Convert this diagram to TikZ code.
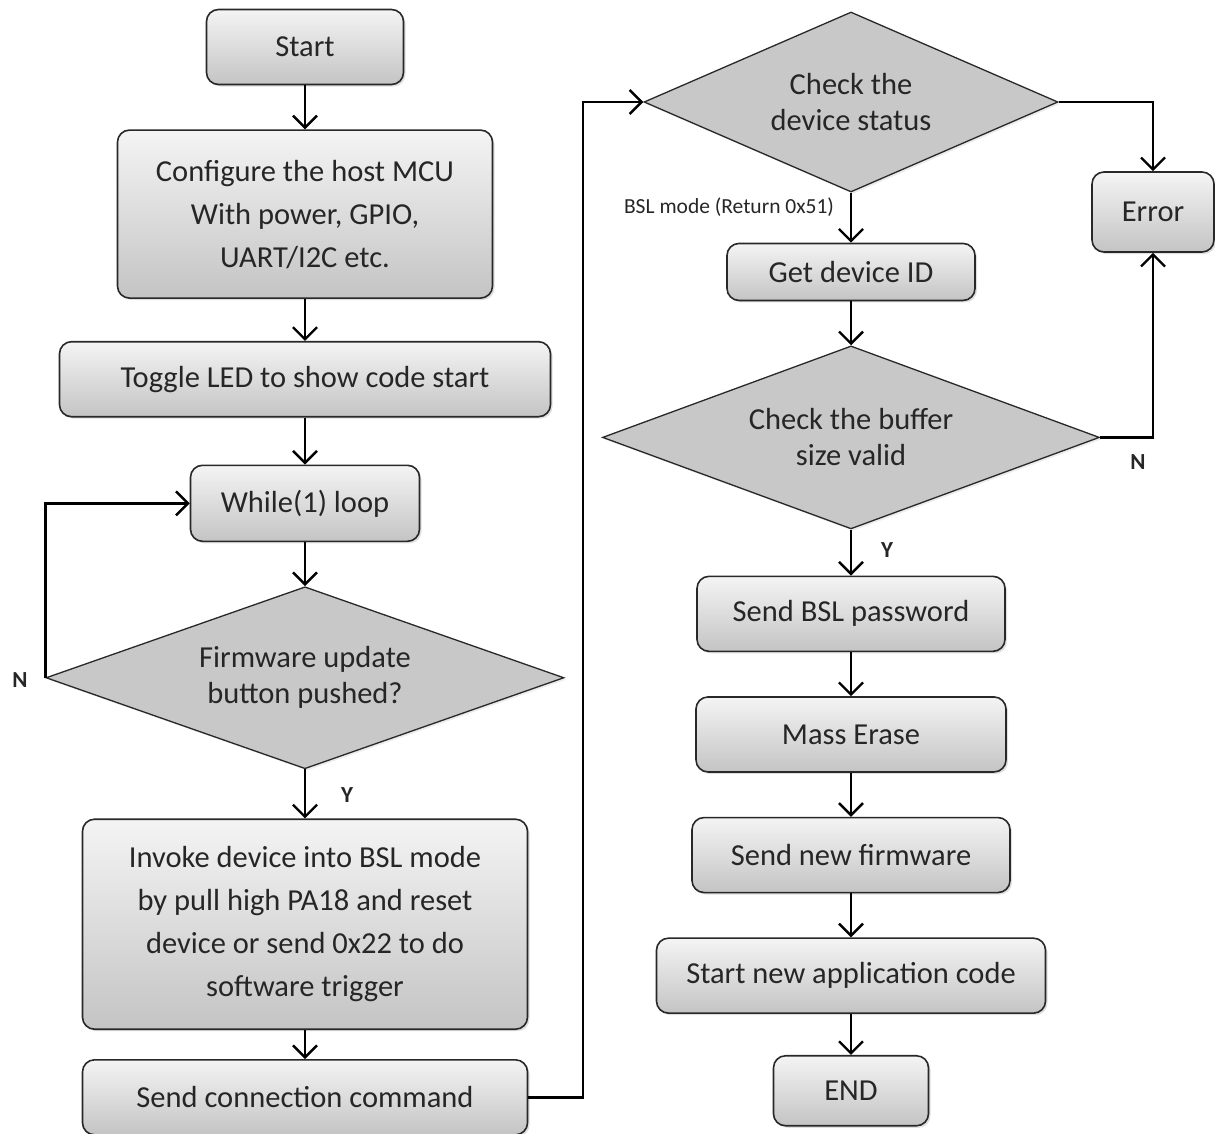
\documentclass[tikz,border=0pt]{standalone}
\usepackage{fontspec}
\setmainfont{Carlito}
\usepackage{tikz}
\usetikzlibrary{positioning,shapes.geometric,arrows.meta,shadows}
\definecolor{boxline}{RGB}{40,40,40}
\definecolor{boxtop}{RGB}{244,244,244}
\definecolor{boxbottom}{RGB}{196,196,196}
\definecolor{decfill}{RGB}{200,200,200}
\definecolor{txt}{RGB}{38,38,38}

\begin{document}
\begin{tikzpicture}[
  x=1pt, y=-1pt,
  every node/.style={font=\fontsize{30.5}{43}\selectfont, text=txt},
  procbox/.style={rectangle, draw=boxline, line width=1.6pt, rounded corners=12pt,
             top color=boxtop, bottom color=boxbottom, align=center, inner sep=2pt,
             drop shadow={opacity=0.25, shadow xshift=2pt, shadow yshift=-2pt}},
  decbox/.style={diamond, draw=boxline, line width=1.3pt, fill=decfill, align=center,
             inner sep=0pt, font=\fontsize{30.5}{36}\selectfont,
             drop shadow={opacity=0.15, shadow xshift=2pt, shadow yshift=-2pt}},
  lbl/.style={font=\fontsize{23}{25}\selectfont\bfseries},
  arrowstyle/.style={-{Straight Barb[length=12pt,width=24pt]}, line width=2.4pt, color=black}
]
  \useasboundingbox (0,0) rectangle (1215,1133);

  \node[procbox, minimum width=197pt, minimum height=75pt] (start) at (305,47) {Start};
  \node[procbox, minimum width=375pt, minimum height=168pt, below=44pt of start] (config)
    {Configure the host MCU\\With power, GPIO,\\UART/I2C etc.};
  \node[procbox, minimum width=491pt, minimum height=75pt, below=42pt of config] (led)
    {Toggle LED to show code start};
  \node[procbox, minimum width=229pt, minimum height=76pt, below=47pt of led] (loop)
    {While(1) loop};
  \node[decbox, aspect=2.85, minimum width=518pt, minimum height=182pt, below=44pt of loop] (button)
    {Firmware update\\button pushed?};
  \node[procbox, minimum width=445pt, minimum height=210pt, below=49pt of button] (invoke)
    {Invoke device into BSL mode\\by pull high PA18 and reset\\device or send 0x22 to do\\software trigger};
  \node[procbox, minimum width=445pt, minimum height=75pt, below=29pt of invoke] (connect)
    {Send connection command};

  \node[decbox, aspect=2.3, minimum width=414pt, minimum height=180pt] (status) at (851,102)
    {Check the\\device status};
  \node[procbox, minimum width=248pt, minimum height=57pt, below=50pt of status] (devid)
    {Get device ID};
  \node[decbox, aspect=2.7, minimum width=497pt, minimum height=183pt, below=44pt of devid] (buffer)
    {Check the buffer\\size valid};
  \node[procbox, minimum width=308pt, minimum height=75pt, below=46pt of buffer] (passwd)
    {Send BSL password};
  \node[procbox, minimum width=310pt, minimum height=75pt, below=44pt of passwd] (erase)
    {Mass Erase};
  \node[procbox, minimum width=318pt, minimum height=75pt, below=44pt of erase] (firmware)
    {Send new firmware};
  \node[procbox, minimum width=389pt, minimum height=75pt, below=44pt of firmware] (app)
    {Start new application code};
  \node[procbox, minimum width=155pt, minimum height=70pt, below=41pt of app] (finish)
    {END};
  \node[procbox, minimum width=122pt, minimum height=80pt] (error) at (1153,212)
    {Error};

  \node[lbl] (nleft) at (20,680) {N};
  \node[lbl] (yleft) at (347,795) {Y};
  \node[lbl] (nright) at (1138,462) {N};
  \node[lbl] (yright) at (887,550) {Y};
  \node[font=\fontsize{21.5}{24}\selectfont] (bslmode) at (729,207) {BSL mode (Return 0x51)};
  \coordinate (bend) at (583,600);

  \draw[arrowstyle] (start) -- (config);
  \draw[arrowstyle] (config) -- (led);
  \draw[arrowstyle] (led) -- (loop);
  \draw[arrowstyle] (loop) -- (button);
  \draw[arrowstyle] (button) -- (invoke);
  \draw[arrowstyle] (invoke) -- (connect);
  \draw[arrowstyle] (button.west) |- (loop.west);
  \draw[arrowstyle] (connect.east) -| (bend) |- (status.west);
  \draw[arrowstyle] (status) -- (devid);
  \draw[arrowstyle] (status.east) -| (error.north);
  \draw[arrowstyle] (devid) -- (buffer);
  \draw[arrowstyle] (buffer.east) -| (error.south);
  \draw[arrowstyle] (buffer) -- (passwd);
  \draw[arrowstyle] (passwd) -- (erase);
  \draw[arrowstyle] (erase) -- (firmware);
  \draw[arrowstyle] (firmware) -- (app);
  \draw[arrowstyle] (app) -- (finish);
\end{tikzpicture}
\end{document}
